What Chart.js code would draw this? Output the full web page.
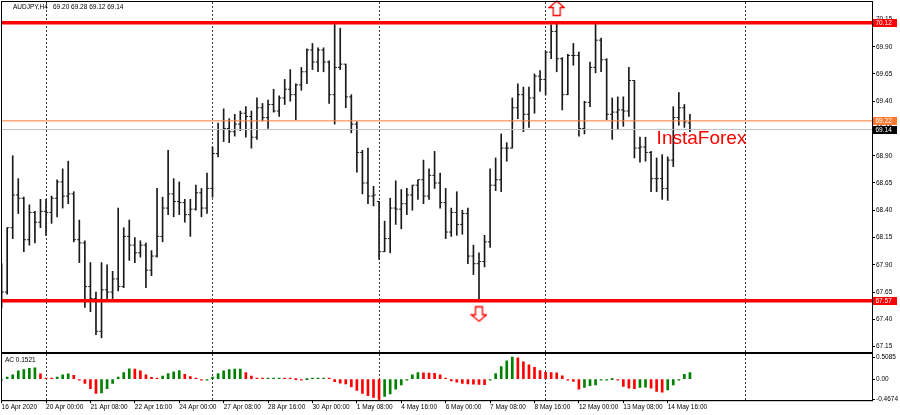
<!DOCTYPE html>
<html>
<head>
<meta charset="utf-8">
<script src="https://cdn.jsdelivr.net/npm/chart.js@4.4.0/dist/chart.umd.min.js"></script>
<style>
  html, body { margin: 0; padding: 0; background: #fff; }
  #wrap { position: relative; width: 900px; height: 415px; background: #fff; overflow: hidden; }
  #main { position: absolute; left: 0; top: 0; }
  #ac   { position: absolute; left: 0; top: 352px; }
</style>
</head>
<body>
<div id="wrap">
  <canvas id="main" width="900" height="354"></canvas>
  <canvas id="ac" width="900" height="63"></canvas>
</div>
<script>
// AUDJPY H4 bars + Accelerator Oscillator subwindow

const symbol = 'AUDJPY,H4';
const firstBar = -8;   // 16 Apr 2020 16:00, bar numbers counted from 20 Apr 00:00

// OHLC, one value per H4 bar (16 Apr 16:00 .. 15 May 08:00)
const openP = [
  67.56, 67.65, 68.24, 68.54, 68.51, 68.13, 68.38, 68.29, 68.39, 68.38,
  68.51, 68.66, 68.53, 68.55, 68.13, 68.10, 67.70, 67.59, 67.29, 67.67,
  67.65, 67.77, 67.70, 68.16, 68.08, 68.01, 68.08, 67.85, 67.98, 68.16,
  68.42, 68.55, 68.48, 68.47, 68.36, 68.41, 68.56, 68.42, 68.60, 68.92,
  69.14, 69.15, 69.12, 69.19, 69.29, 69.26, 69.07, 69.34, 69.25, 69.37,
  69.31, 69.43, 69.51, 69.46, 69.55, 69.67, 69.87, 69.76, 69.87, 69.76,
  69.46, 69.71, 69.74, 69.44, 69.19, 68.93, 68.65, 68.53, 68.48, 68.02,
  68.14, 68.42, 68.41, 68.46, 68.54, 68.63, 68.68, 68.53, 68.72, 68.65,
  68.47, 68.20, 68.38, 68.27, 68.37, 67.98, 67.91, 67.93, 68.11, 68.63,
  68.68, 68.97, 68.97, 69.34, 69.46, 69.28, 69.43, 69.63, 69.60, 69.85,
  70.04, 69.79, 69.46, 69.82, 69.82, 69.15, 69.39, 69.71, 69.96, 69.78,
  69.28, 69.30, 69.32, 69.31, 69.59, 68.97, 68.98, 68.93, 68.69, 68.69,
  68.60, 68.86, 69.25, 69.34, 69.20
];
const highP = [
  67.91, 68.24, 68.90, 68.69, 68.52, 68.45, 68.39, 68.50, 68.50, 68.53,
  68.68, 68.78, 68.85, 68.57, 68.31, 68.12, 67.92, 67.65, 67.92, 67.90,
  67.84, 68.42, 68.24, 68.31, 68.15, 68.12, 68.10, 68.03, 68.60, 68.52,
  68.95, 68.69, 68.66, 68.50, 68.50, 68.63, 68.60, 68.74, 68.98, 69.20,
  69.33, 69.24, 69.28, 69.31, 69.35, 69.31, 69.43, 69.38, 69.41, 69.51,
  69.45, 69.60, 69.69, 69.56, 69.71, 69.88, 69.93, 69.89, 69.89, 69.77,
  70.11, 70.07, 69.74, 69.46, 69.21, 68.95, 68.97, 68.62, 68.48, 68.30,
  68.51, 68.67, 68.59, 68.60, 68.63, 68.68, 68.86, 68.78, 68.94, 68.74,
  68.60, 68.42, 68.57, 68.40, 68.42, 68.08, 68.01, 68.17, 68.78, 68.88,
  69.10, 69.02, 69.43, 69.56, 69.53, 69.53, 69.65, 69.68, 69.86, 70.10,
  70.11, 69.80, 69.83, 69.93, 69.85, 69.40, 69.76, 70.11, 69.98, 69.79,
  69.43, 69.44, 69.44, 69.71, 69.59, 69.07, 69.07, 68.94, 68.88, 68.91,
  68.89, 69.35, 69.48, 69.37, 69.28
];
const lowP = [
  67.51, 67.63, 68.14, 68.37, 68.02, 68.08, 68.10, 68.24, 68.17, 68.28,
  68.34, 68.42, 68.46, 68.11, 67.92, 67.51, 67.47, 67.26, 67.23, 67.59,
  67.59, 67.66, 67.69, 67.94, 67.92, 67.97, 67.69, 67.80, 67.97, 68.11,
  68.36, 68.34, 68.36, 68.29, 68.16, 68.40, 68.34, 68.37, 68.52, 68.89,
  69.03, 69.02, 69.08, 69.13, 69.07, 68.97, 69.05, 69.22, 69.15, 69.30,
  69.26, 69.37, 69.40, 69.23, 69.50, 69.56, 69.69, 69.67, 69.67, 69.38,
  69.19, 69.69, 69.34, 69.11, 68.75, 68.55, 68.46, 68.44, 67.95, 68.02,
  68.01, 68.27, 68.23, 68.36, 68.40, 68.50, 68.46, 68.50, 68.60, 68.42,
  68.14, 68.16, 68.17, 68.18, 67.91, 67.81, 67.58, 67.88, 68.06, 68.58,
  68.57, 68.85, 68.97, 69.24, 69.12, 69.16, 69.29, 69.49, 69.46, 69.79,
  69.67, 69.32, 69.46, 69.73, 69.08, 69.10, 69.35, 69.66, 69.67, 69.23,
  69.05, 69.14, 69.17, 69.26, 68.88, 68.84, 68.85, 68.57, 68.57, 68.50,
  68.49, 68.80, 69.18, 69.16, 69.12
];
const closeP = [
  67.65, 68.24, 68.54, 68.51, 68.13, 68.38, 68.29, 68.39, 68.38, 68.51,
  68.66, 68.53, 68.55, 68.13, 68.10, 67.70, 67.59, 67.29, 67.67, 67.65,
  67.77, 67.70, 68.16, 68.08, 68.01, 68.08, 67.85, 67.98, 68.16, 68.42,
  68.55, 68.48, 68.47, 68.36, 68.41, 68.56, 68.42, 68.60, 68.92, 69.14,
  69.15, 69.12, 69.19, 69.29, 69.26, 69.07, 69.34, 69.25, 69.37, 69.31,
  69.43, 69.51, 69.46, 69.55, 69.67, 69.87, 69.76, 69.87, 69.76, 69.46,
  69.71, 69.74, 69.44, 69.19, 68.93, 68.65, 68.53, 68.54, 68.02, 68.14,
  68.42, 68.41, 68.46, 68.54, 68.63, 68.68, 68.53, 68.72, 68.65, 68.47,
  68.20, 68.38, 68.27, 68.37, 67.98, 67.91, 67.93, 68.11, 68.63, 68.68,
  68.97, 68.97, 69.34, 69.46, 69.28, 69.43, 69.63, 69.60, 69.85, 70.04,
  69.79, 69.46, 69.82, 69.82, 69.15, 69.39, 69.71, 69.96, 69.78, 69.28,
  69.30, 69.32, 69.31, 69.59, 68.97, 68.98, 68.93, 68.69, 68.69, 68.60,
  68.86, 69.25, 69.34, 69.21, 69.14
];

// Accelerator Oscillator, same bars
const acVals = [
  -0.02, 0.05, 0.10, 0.19, 0.22, 0.25, 0.26, 0.12, 0.02, 0.01,
  0.05, 0.10, 0.12, 0.09, -0.01, -0.10, -0.22, -0.33, -0.32, -0.22,
  -0.10, 0.05, 0.15, 0.24, 0.23, 0.19, 0.10, 0.04, 0.02, 0.07,
  0.13, 0.17, 0.20, 0.11, 0.06, 0.01, -0.02, -0.01, 0.05, 0.13,
  0.19, 0.22, 0.23, 0.235, 0.15, 0.07, 0.01, 0.005, 0.008, 0.01,
  0.015, 0.01, 0.005, 0.00, -0.005, 0.00, 0.005, 0.01, 0.02, 0.01,
  -0.06, -0.09, -0.11, -0.18, -0.26, -0.33, -0.38, -0.42, -0.4674, -0.40,
  -0.34, -0.23, -0.13, -0.02, 0.10, 0.15, 0.145, 0.14, 0.135, 0.10,
  0.01, -0.04, -0.07, -0.10, -0.11, -0.115, -0.12, -0.125, -0.01, 0.13,
  0.29, 0.42, 0.5085, 0.49, 0.40, 0.33, 0.27, 0.20, 0.155, 0.15,
  0.145, 0.076, -0.005, -0.05, -0.23, -0.19, -0.15, -0.135, -0.02, -0.01,
  0.00, -0.02, -0.17, -0.21, -0.22, -0.19, -0.185, -0.21, -0.28, -0.30,
  -0.25, -0.13, -0.01, 0.11, 0.1521
];

// axis ticks
const priceTicks = [67.15, 67.40, 67.65, 67.90, 68.15, 68.40, 68.65, 68.90, 69.15, 69.40, 69.65, 69.90, 70.15];
const acTicks = [0.5085, 0, -0.4674];
const timeTickIdx = [-8, 0, 8, 16, 24, 32, 40, 48, 56, 64, 72, 80, 88, 96, 104, 112];
const timeTickText = ['16 Apr 2020', '20 Apr 00:00', '21 Apr 08:00', '22 Apr 16:00', '24 Apr 00:00',
  '27 Apr 08:00', '28 Apr 16:00', '30 Apr 00:00', '1 May 08:00', '4 May 16:00', '6 May 00:00',
  '7 May 08:00', '8 May 16:00', '12 May 00:00', '13 May 08:00', '14 May 16:00'];
const weekSepIdx = [0, 30, 60, 90, 126];

// drawn objects
const levelLines = [70.12, 67.57];
const markLine = 69.22;
const arrowUp = { bar: 92, price: 70.25 };
const arrowDown = { bar: 78, price: 67.45 };
const watermark = { text: 'InstaForex', bar: 110, price: 69.01 };

// visible window
const X_MIN = -7.93, X_MAX = 148.8;

const last = openP.length - 1;
const bidPrice = closeP[last];
const FONT = '6.5px "Liberation Sans", Arial, sans-serif';

Chart.defaults.font.family = '"Liberation Sans", Arial, sans-serif';
Chart.defaults.font.size = 6.5;
Chart.defaults.color = '#000';

function arrowImage(up) {
  const c = document.createElement('canvas');
  c.width = 17; c.height = 17;
  const g = c.getContext('2d');
  if (!up) { g.translate(0, 17); g.scale(1, -1); }
  g.beginPath();
  g.moveTo(8.5, 1); g.lineTo(16, 7.5); g.lineTo(12, 7.5); g.lineTo(12, 15.5);
  g.lineTo(5, 15.5); g.lineTo(5, 7.5); g.lineTo(1, 7.5); g.closePath();
  g.fillStyle = '#fff'; g.fill();
  g.strokeStyle = '#f00'; g.lineWidth = 1.3; g.stroke();
  return c;
}

function hLine(v, color, width, order) {
  return { type: 'line', data: [{ x: X_MIN, y: v }, { x: X_MAX, y: v }],
    borderColor: color, borderWidth: width, pointRadius: 0, order };
}

function sepAxis() {
  return {
    type: 'linear', position: 'bottom', min: X_MIN, max: X_MAX, offset: false, bounds: 'data',
    afterBuildTicks: s => { s.ticks = weekSepIdx.map(v => ({ value: v })); },
    ticks: { display: false },
    grid: { color: '#3a3a3a', drawTicks: false, offset: false },
    border: { display: false, dash: [2, 2] }
  };
}

// fixed-width right scale, no extra room for edge labels
function fitRight(s) {
  s.width = 28;
  s.paddingTop = 0;
  s.paddingBottom = 0;
}

function frame(chart) {
  const { ctx, chartArea: a } = chart;
  ctx.strokeStyle = '#000'; ctx.lineWidth = 1;
  ctx.strokeRect(a.left - 0.5, a.top - 0.5, a.right - a.left + 1, a.bottom - a.top + 1);
}

const idx = openP.map((_, k) => firstBar + k);
const hlData = idx.map((x, k) => ({ x, y: [lowP[k], highP[k]] }));
const openData = idx.map((x, k) => ({ x: x - 0.2, y: openP[k] }));
const closeData = idx.map((x, k) => ({ x: x + 0.2, y: closeP[k] }));
const acData = idx.map((x, k) => ({ x, y: acVals[k] }));
const acColors = acVals.map((v, k) => (k === 0 || v >= acVals[k - 1]) ? '#008000' : '#ff0000');

// price tags on the right scale
const priceTags = [
  [levelLines[0], '#ff0000', '#fff'],
  [levelLines[1], '#ff0000', '#fff'],
  [markLine, '#ff7a33', '#fff'],
  [bidPrice, '#000', '#fff']
];

const mainDecor = {
  id: 'mainDecor',
  afterDraw(chart) {
    const { ctx, scales } = chart;
    const y = scales.y, x = scales.x;
    ctx.save();
    frame(chart);
    ctx.font = '19px "Liberation Sans", Arial, sans-serif';
    ctx.fillStyle = '#ff0000';
    ctx.textBaseline = 'alphabetic';
    ctx.fillText(watermark.text, x.getPixelForValue(watermark.bar), y.getPixelForValue(watermark.price));

    ctx.font = FONT;
    ctx.fillStyle = '#000';
    ctx.textBaseline = 'middle';
    ctx.fillText(symbol, 13, 7.5);
    ctx.fillText([openP[last], highP[last], lowP[last], closeP[last]].map(v => v.toFixed(2)).join(' '), 53, 7.5);

    priceTags.forEach(([v, bg, fg]) => {
      const py = Math.round(y.getPixelForValue(v));
      ctx.fillStyle = bg;
      ctx.fillRect(y.left + 1, py - 4, 24, 8);
      ctx.fillStyle = fg;
      ctx.fillText(v.toFixed(2), y.left + 3.5, py + 0.5);
    });
    ctx.restore();
  }
};

const acDecor = {
  id: 'acDecor',
  afterDraw(chart) {
    const { ctx } = chart;
    ctx.save();
    frame(chart);
    ctx.font = FONT;
    ctx.fillStyle = '#000';
    ctx.textBaseline = 'middle';
    ctx.fillText('AC ' + acVals[last].toFixed(4), 5, 8);
    ctx.restore();
  }
};

new Chart(document.getElementById('main'), {
  type: 'scatter',
  data: {
    datasets: [
      ...levelLines.map(v => hLine(v, '#ff0000', 3.5, 0)),
      hLine(markLine, '#ff7a33', 1, 1),
      hLine(bidPrice, '#c0c0c0', 1, 1),
      { type: 'bar', data: hlData, backgroundColor: '#1a1a1a', barThickness: 1, borderWidth: 0, order: 3 },
      { data: openData, pointStyle: 'line', pointRadius: 1.1, pointBorderColor: '#1a1a1a', pointBorderWidth: 1, order: 3 },
      { data: closeData, pointStyle: 'line', pointRadius: 1.1, pointBorderColor: '#1a1a1a', pointBorderWidth: 1, order: 3 },
      { data: [{ x: arrowUp.bar, y: arrowUp.price }], pointStyle: arrowImage(true), pointRadius: 8, clip: false, order: 0 },
      { data: [{ x: arrowDown.bar, y: arrowDown.price }], pointStyle: arrowImage(false), pointRadius: 8, clip: false, order: 0 }
    ]
  },
  options: {
    responsive: false,
    animation: false,
    events: [],
    layout: { autoPadding: false, padding: { left: 2, top: 2, right: 0, bottom: 2 } },
    plugins: { legend: { display: false }, tooltip: { enabled: false } },
    scales: {
      x: { type: 'linear', min: X_MIN, max: X_MAX, offset: false, bounds: 'data', display: false },
      x2: sepAxis(),
      y: {
        position: 'right', min: 67.10, max: 70.31, bounds: 'data',
        afterFit: fitRight,
        afterBuildTicks: s => { s.ticks = priceTicks.map(v => ({ value: v })); },
        ticks: { autoSkip: false, padding: 1, callback: v => v.toFixed(2) },
        grid: { drawOnChartArea: false, tickLength: 3, tickColor: '#000' },
        border: { color: '#000' }
      }
    }
  },
  plugins: [mainDecor]
});

new Chart(document.getElementById('ac'), {
  type: 'scatter',
  data: {
    datasets: [
      { type: 'bar', data: acData, backgroundColor: acColors, barThickness: 2, minBarLength: 1, borderWidth: 0 }
    ]
  },
  options: {
    responsive: false,
    animation: false,
    events: [],
    layout: { autoPadding: false, padding: { left: 2, top: 2, right: 0, bottom: 4 } },
    plugins: { legend: { display: false }, tooltip: { enabled: false } },
    scales: {
      x: {
        type: 'linear', min: X_MIN, max: X_MAX, offset: false, bounds: 'data',
        afterBuildTicks: s => { s.ticks = timeTickIdx.map(v => ({ value: v })); },
        ticks: { autoSkip: false, maxRotation: 0, align: 'start', padding: 0, callback: (v, k) => timeTickText[k] },
        grid: { drawOnChartArea: false, tickLength: 3, tickColor: '#000', offset: false },
        border: { color: '#000' }
      },
      x2: sepAxis(),
      y: {
        position: 'right', min: -0.485, max: 0.58, bounds: 'data',
        afterFit: fitRight,
        afterBuildTicks: s => { s.ticks = acTicks.map(v => ({ value: v })); },
        ticks: { autoSkip: false, padding: 1, callback: v => v === 0 ? '0.00' : v.toFixed(4) },
        grid: { drawOnChartArea: false, tickLength: 3, tickColor: '#000' },
        border: { color: '#000' }
      }
    }
  },
  plugins: [acDecor]
});
</script>
</body>
</html>
